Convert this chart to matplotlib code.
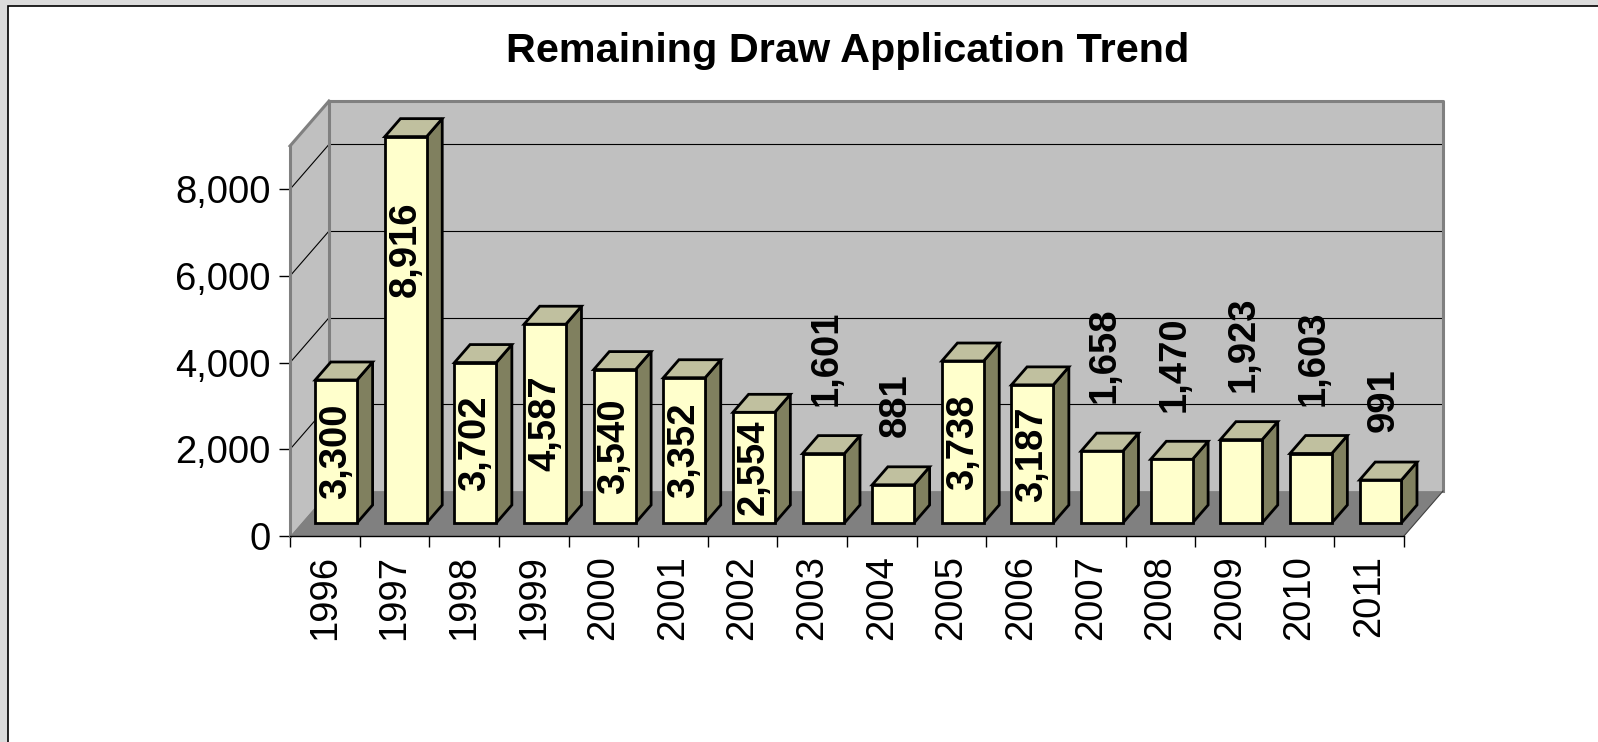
import matplotlib
matplotlib.use('Agg')
import matplotlib.pyplot as plt
from matplotlib.patches import Polygon, Rectangle
import numpy as np

years = ['1996', '1997', '1998', '1999', '2000', '2001', '2002', '2003',
         '2004', '2005', '2006', '2007', '2008', '2009', '2010', '2011']
values = [3300, 8916, 3702, 4587, 3540, 3352, 2554, 1601,
          881, 3738, 3187, 1658, 1470, 1923, 1603, 991]
title = 'Remaining Draw Application Trend'

plt.rcParams['font.family'] = ['Liberation Sans', 'DejaVu Sans']

W, H = 1598, 742
YMAX = 9000
DX, DY = 0.56, 1037      # depth of the box (category units, value units)
Z0, BD = 0.29, 0.40      # bar front depth and bar depth (fraction of box depth)
BW = 0.6                 # bar width

fig = plt.figure(figsize=(W / 100, H / 100), dpi=100, facecolor='#dcdcdc')
fig.add_artist(Rectangle((8 / W, -0.1), 1.2, (H - 6) / H + 0.1, transform=fig.transFigure,
                         facecolor='white', edgecolor='black', lw=1.2, zorder=-10))

ax = fig.add_axes([290 / W, 206 / H, 1114 / W, 390 / H])
ax.set_xlim(0, len(values))
ax.set_ylim(0, YMAX)
ax.patch.set_alpha(0)
n = len(values)

# walls and floor
wall = '#c0c0c0'
ax.add_patch(Polygon([(DX, DY), (n + DX, DY), (n + DX, YMAX + DY), (DX, YMAX + DY)],
                     closed=True, facecolor=wall, edgecolor='none', zorder=0.1, clip_on=False))
ax.add_patch(Polygon([(0, 0), (DX, DY), (DX, YMAX + DY), (0, YMAX)],
                     closed=True, facecolor=wall, edgecolor='none', zorder=0.1, clip_on=False))
ax.add_patch(Polygon([(0, 0), (n, 0), (n + DX, DY), (DX, DY)],
                     closed=True, facecolor='#808080', edgecolor='none', zorder=0.1, clip_on=False))

# gridlines
for v in range(2000, YMAX, 2000):
    ax.plot([DX, n + DX], [v + DY, v + DY], color='black', lw=0.8, zorder=0.3, clip_on=False)
    ax.plot([0, DX], [v, v + DY], color='black', lw=0.8, zorder=0.3, clip_on=False)

# wall edges
edge = dict(color='#808080', lw=2.2, zorder=0.4, clip_on=False, solid_capstyle='projecting')
ax.plot([0, DX], [YMAX, YMAX + DY], **edge)
ax.plot([DX, n + DX, n + DX], [YMAX + DY, YMAX + DY, DY], **edge)
ax.plot([DX, DX], [DY, YMAX + DY], **edge)
ax.plot([n, n + DX], [0, DY], color='#404040', lw=0.8, zorder=0.4, clip_on=False)

# bars
for i, v in enumerate(values):
    x0 = i + (1 - BW) / 2 + Z0 * DX
    y0 = Z0 * DY
    bx, by = BD * DX, BD * DY
    kw = dict(closed=True, edgecolor='black', lw=2.0, joinstyle='miter', zorder=2, clip_on=False)
    ax.add_patch(Polygon([(x0 + BW, y0), (x0 + BW + bx, y0 + by), (x0 + BW + bx, y0 + v + by),
                          (x0 + BW, y0 + v)], facecolor='#80805f', **kw))
    ax.add_patch(Polygon([(x0, y0 + v), (x0 + BW, y0 + v), (x0 + BW + bx, y0 + v + by),
                          (x0 + bx, y0 + v + by)], facecolor='#c0c09f', **kw))
    ax.add_patch(Polygon([(x0, y0), (x0 + BW, y0), (x0 + BW, y0 + v), (x0, y0 + v)],
                         facecolor='#ffffcc', **kw))
    label = f'{v:,}'
    if v >= 2500:
        ax.text(x0 + BW / 2, y0 + max(0.5 * v, v - 2600), label, rotation=90,
                ha='center', va='center', fontsize=27.5, fontweight='bold', zorder=5, clip_on=False)
    else:
        ax.text(x0 + BW / 2 + 0.04, y0 + v + 1100, label, rotation=90,
                ha='center', va='bottom', fontsize=27.5, fontweight='bold', zorder=5, clip_on=False)

# axes
for s in ['top', 'right']:
    ax.spines[s].set_visible(False)
ax.spines['left'].set_color('#808080')
ax.spines['left'].set_linewidth(2.2)
ax.spines['bottom'].set_color('black')
ax.spines['bottom'].set_linewidth(1.0)

ax.set_yticks(range(0, YMAX, 2000))
ax.set_yticklabels([f'{t:,}' for t in range(0, YMAX, 2000)], fontsize=27.5)
ax.tick_params(axis='y', length=8, width=1, color='black', pad=6)

ax.set_xticks(np.arange(0, n + 1))
ax.set_xticklabels([])
ax.tick_params(axis='x', which='major', length=8, width=1, color='black')
ax.set_xticks(np.arange(n) + 0.5, minor=True)
ax.set_xticklabels(years, minor=True, rotation=90, fontsize=27.5)
ax.tick_params(axis='x', which='minor', length=0, pad=14)

fig.text(848 / W, 1 - 62 / H, title, ha='center', va='baseline', fontsize=29.8, fontweight='bold')

fig.savefig('out.png', dpi=100, facecolor=fig.get_facecolor())
